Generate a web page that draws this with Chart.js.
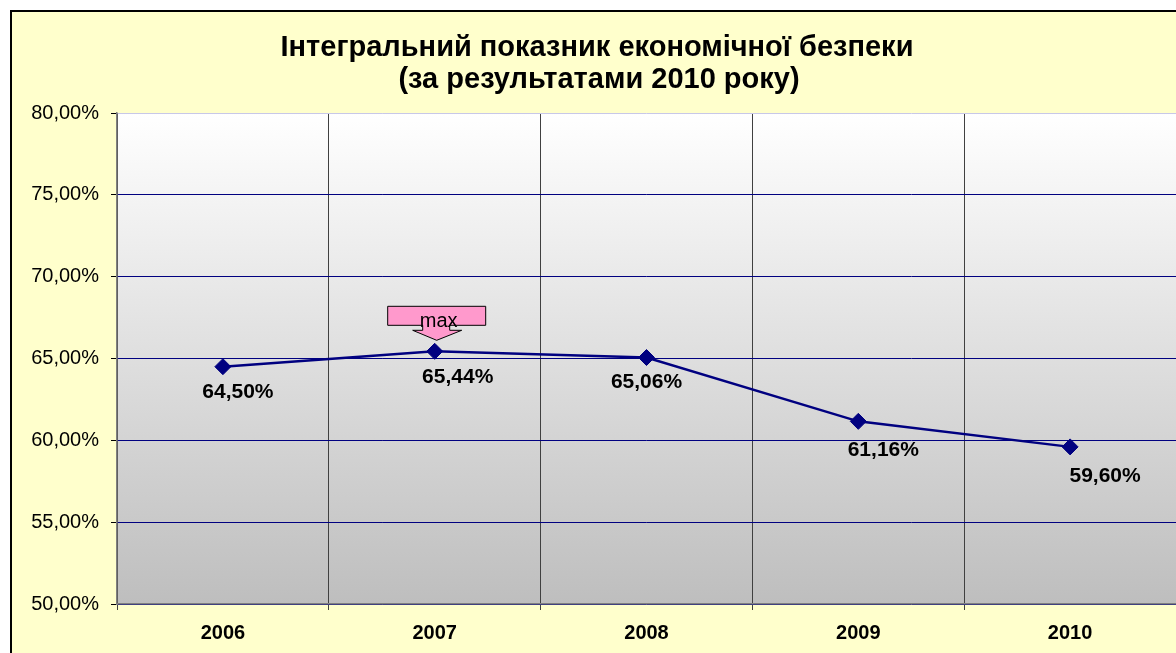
<!DOCTYPE html>
<html>
<head>
<meta charset="utf-8">
<script src="https://cdn.jsdelivr.net/npm/chart.js@4/dist/chart.umd.min.js"></script>
<style>
  body { margin: 0; background: #fff; overflow: hidden; }
  #wrap { width: 1176px; height: 653px; }
</style>
</head>
<body>
<div id="wrap"><canvas id="chart"></canvas></div>
<script>
const titleLines = ['Інтегральний показник економічної безпеки', '(за результатами 2010 року)'];
const years = ['2006', '2007', '2008', '2009', '2010'];
const integralIndex = [64.50, 65.44, 65.06, 61.16, 59.60];
const yMin = 50, yMax = 80, yStep = 5;
const maxNote = 'max';

// сдвиг подписей относительно точек (px), как в исходном листе
const labelShift = [[15, 26], [23, 26], [0, 25], [25, 29], [35, 29]];

const FONT = "Arial, 'Liberation Sans', sans-serif";

function pct(v) {
    return v.toFixed(2).replace('.', ',') + '%';
}

const decor = {
    id: 'decor',
    beforeDraw(chart) {
        const {ctx, chartArea: a, width, height} = chart;
        ctx.save();
        ctx.fillStyle = '#FFFFCC';
        ctx.fillRect(11, 11, width, height);
        ctx.strokeStyle = '#000';
        ctx.lineWidth = 2;
        ctx.beginPath();
        ctx.moveTo(11, height + 5);
        ctx.lineTo(11, 11);
        ctx.lineTo(width + 5, 11);
        ctx.stroke();

        const g = ctx.createLinearGradient(0, a.top, 0, a.bottom);
        g.addColorStop(0, '#FFFFFF');
        g.addColorStop(1, '#BEBEBE');
        ctx.fillStyle = g;
        ctx.fillRect(a.left, a.top, a.right - a.left, a.bottom - a.top);

        ctx.fillStyle = '#000';
        ctx.font = 'bold 29px ' + FONT;
        ctx.textAlign = 'center';
        ctx.textBaseline = 'middle';
        ctx.fillText(titleLines[0], 597, 48);
        ctx.fillText(titleLines[1], 599, 80);
        ctx.restore();
    },
    afterDatasetsDraw(chart) {
        const ctx = chart.ctx;
        const pts = chart.getDatasetMeta(0).data;
        ctx.save();
        ctx.font = 'bold 21px ' + FONT;
        ctx.fillStyle = '#000';
        ctx.textAlign = 'center';
        ctx.textBaseline = 'middle';
        pts.forEach((p, i) => {
            ctx.fillText(pct(integralIndex[i]), p.x + labelShift[i][0], p.y + labelShift[i][1]);
        });

        // стрелка "max" над максимальной точкой
        const mi = integralIndex.indexOf(Math.max(...integralIndex));
        const x = pts[mi].x, y = pts[mi].y;
        ctx.beginPath();
        ctx.moveTo(x - 47, y - 45);
        ctx.lineTo(x + 51, y - 45);
        ctx.lineTo(x + 51, y - 26);
        ctx.lineTo(x + 15, y - 26);
        ctx.lineTo(x + 15, y - 21);
        ctx.lineTo(x + 27, y - 21);
        ctx.lineTo(x + 2, y - 11);
        ctx.lineTo(x - 22, y - 21);
        ctx.lineTo(x - 12, y - 21);
        ctx.lineTo(x - 12, y - 26);
        ctx.lineTo(x - 47, y - 26);
        ctx.closePath();
        ctx.fillStyle = '#FF99CC';
        ctx.fill();
        ctx.strokeStyle = '#000';
        ctx.lineWidth = 1;
        ctx.stroke();
        ctx.fillStyle = '#000';
        ctx.font = '20px ' + FONT;
        ctx.textBaseline = 'alphabetic';
        ctx.fillText(maxNote, x + 4, y - 24);
        ctx.restore();
    }
};

new Chart(document.getElementById('chart'), {
    type: 'line',
    data: {
        labels: years,
        datasets: [{
            data: integralIndex,
            borderColor: '#000080',
            backgroundColor: '#000080',
            borderWidth: 2.5,
            pointStyle: 'rectRot',
            pointRadius: 8,
            pointBorderWidth: 1,
            tension: 0
        }]
    },
    options: {
        responsive: true,
        maintainAspectRatio: false,
        animation: false,
        layout: {
            autoPadding: false,
            padding: {top: 113, left: 10, right: 0, bottom: 0}
        },
        scales: {
            x: {
                offset: true,
                grid: {
                    offset: true,
                    color: '#404040',
                    tickColor: '#404040',
                    tickLength: 6
                },
                border: {color: '#808080', width: 1.5},
                ticks: {
                    color: '#000',
                    padding: 11,
                    font: {family: FONT, size: 20, weight: 'bold'}
                },
                afterFit(s) { s.height = 49; }
            },
            y: {
                min: yMin,
                max: yMax,
                ticks: {
                    stepSize: yStep,
                    color: '#000',
                    padding: 12,
                    font: {family: FONT, size: 20},
                    callback: (v) => pct(v)
                },
                grid: {
                    color: (c) => c.tick && c.tick.value === yMax ? '#C8C8E8' : '#000080',
                    tickColor: '#000',
                    tickLength: 6
                },
                border: {color: '#808080', width: 1.5},
                afterFit(s) { s.width = 107; }
            }
        },
        plugins: {
            legend: {display: false},
            title: {display: false},
            tooltip: {enabled: false}
        }
    },
    plugins: [decor]
});
</script>
</body>
</html>
